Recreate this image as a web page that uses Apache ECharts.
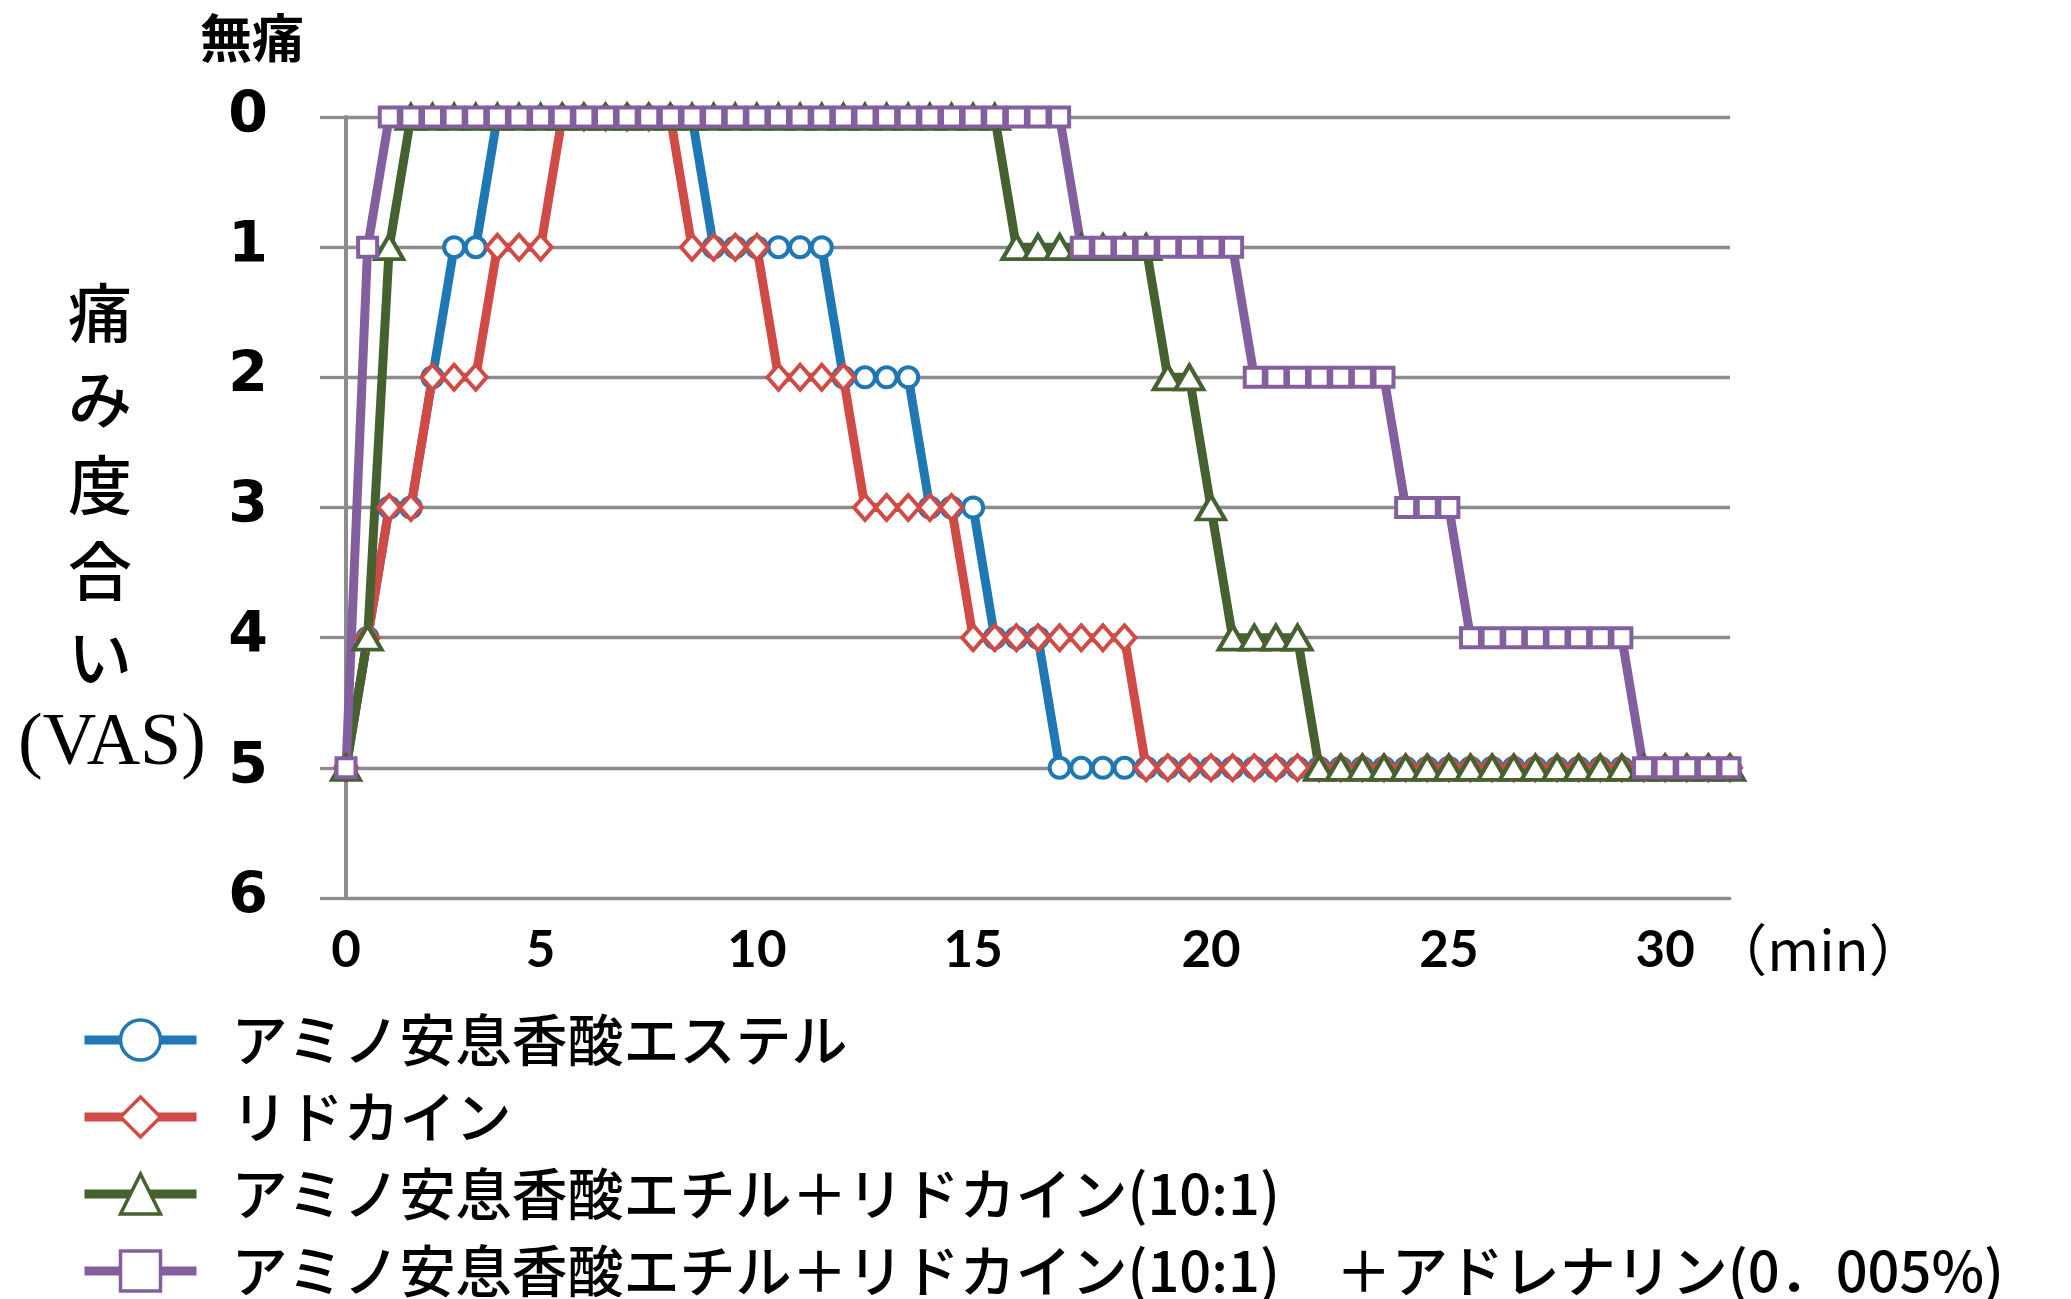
<!DOCTYPE html>
<html lang="ja">
<head>
<meta charset="utf-8">
<title>痛み度合い（VAS）の経時変化</title>
<script src="https://cdn.jsdelivr.net/npm/echarts@6/dist/echarts.min.js"></script>
<style>
  html, body { margin: 0; padding: 0; background: #ffffff; }
  #chart { width: 2071px; height: 1299px; }
</style>
</head>
<body>
<div id="chart"></div>
<script>
// VAS pain score at each sampling point (0 = no pain, 5 = before anaesthesia)
const esterVAS = [
  5, 4, 3, 3, 2, 1, 1,
  0, 0, 0, 0, 0, 0, 0, 0, 0, 0,
  1, 1, 1, 1, 1, 1,
  2, 2, 2, 2,
  3, 3, 3,
  4, 4, 4,
  5, 5, 5, 5, 5, 5, 5, 5, 5, 5, 5, 5, 5, 5, 5, 5,
  5, 5, 5, 5, 5, 5, 5, 5, 5, 5, 5, 5, 5, 5, 5, 5
];
const lidocaineVAS = [
  5, 4, 3, 3, 2, 2, 2, 1, 1, 1,
  0, 0, 0, 0, 0, 0,
  1, 1, 1, 1,
  2, 2, 2, 2,
  3, 3, 3, 3, 3,
  4, 4, 4, 4, 4, 4, 4, 4,
  5, 5, 5, 5, 5, 5, 5, 5, 5, 5, 5, 5, 5, 5,
  5, 5, 5, 5, 5, 5, 5, 5, 5, 5, 5, 5, 5, 5
];
const mixVAS = [
  5, 4, 1,
  0, 0, 0, 0, 0, 0, 0, 0, 0, 0, 0, 0, 0, 0,
  0, 0, 0, 0, 0, 0, 0, 0, 0, 0, 0, 0, 0, 0,
  1, 1, 1, 1, 1, 1, 1,
  2, 2,
  3,
  4, 4, 4, 4,
  5, 5, 5, 5, 5, 5, 5, 5, 5, 5,
  5, 5, 5, 5, 5, 5, 5, 5, 5, 5
];
const mixAdrenalineVAS = [
  5, 1,
  0, 0, 0, 0, 0, 0, 0, 0, 0, 0, 0, 0, 0, 0, 0, 0,
  0, 0, 0, 0, 0, 0, 0, 0, 0, 0, 0, 0, 0, 0, 0, 0,
  1, 1, 1, 1, 1, 1, 1, 1,
  2, 2, 2, 2, 2, 2, 2,
  3, 3, 3,
  4, 4, 4, 4, 4, 4, 4, 4,
  5, 5, 5, 5, 5
];

const seriesNames = [
  'アミノ安息香酸エステル',
  'リドカイン',
  'アミノ安息香酸エチル＋リドカイン(10:1)',
  'アミノ安息香酸エチル＋リドカイン(10:1)　＋アドレナリン(0．005%)'
];

// Minute labels and the sampling point each one sits under
const minuteTickIndex = [0, 9, 19, 29, 40, 51, 61];
const minuteTickText = ['0', '5', '10', '15', '20', '25', '30'];

const seriesValues = [esterVAS, lidocaineVAS, mixVAS, mixAdrenalineVAS];
const samplePoints = esterVAS.map((_, i) => String(i));

const looks = [
  { color: '#1F77B4', symbol: 'circle',   size: 20 },
  { color: '#D14B46', symbol: 'diamond',  size: [22, 25] },
  { color: '#44612F', symbol: 'triangle', size: [28, 24] },
  { color: '#845F9F', symbol: 'rect',     size: 19 }
];

const grey = '#8C8C8C';
const cjk = '"Noto Sans CJK JP", "Noto Sans CJK SC", sans-serif';

const chart = echarts.init(document.getElementById('chart'), null, { renderer: 'canvas' });

chart.setOption({
  animation: false,
  backgroundColor: '#ffffff',
  grid: { left: 346, right: 341, top: 117, bottom: 401, containLabel: false, outerBoundsMode: 'none' },
  xAxis: {
    type: 'category',
    data: samplePoints,
    boundaryGap: false,
    axisLine: { show: true, onZero: false, lineStyle: { color: grey, width: 3 } },
    axisTick: { show: false },
    splitLine: { show: false },
    axisLabel: {
      interval: 0,
      margin: 27,
      color: '#000',
      fontFamily: 'Lato, "Open Sans", sans-serif',
      fontWeight: 'bold',
      fontSize: 51,
      formatter: (value, index) => {
        const k = minuteTickIndex.indexOf(index);
        return k < 0 ? '' : minuteTickText[k];
      }
    }
  },
  yAxis: {
    type: 'value',
    inverse: true,
    min: 0,
    max: 6,
    interval: 1,
    axisLine: { show: true, onZero: false, lineStyle: { color: grey, width: 4 } },
    axisTick: { show: true, inside: false, length: 26, lineStyle: { color: grey, width: 3.3 } },
    splitLine: { show: true, lineStyle: { color: grey, width: 3.3 } },
    axisLabel: {
      margin: 78,
      color: '#000',
      fontFamily: '"DejaVu Sans", sans-serif',
      fontWeight: 'bold',
      fontSize: 57
    }
  },
  legend: {
    orient: 'vertical',
    left: 80,
    top: 1012,
    height: 290,
    padding: 0,
    itemWidth: 112,
    itemHeight: 50,
    itemGap: 21,
    selectedMode: false,
    data: seriesNames,
    lineStyle: { width: 9 },
    itemStyle: { borderWidth: 3.5 },
    textStyle: {
      fontFamily: cjk,
      fontWeight: 500,
      fontSize: 56,
      color: '#000',
      padding: [0, 0, 0, 30]
    }
  },
  series: seriesNames.map((name, s) => ({
    name: name,
    type: 'line',
    data: seriesValues[s],
    symbol: looks[s].symbol,
    symbolSize: looks[s].size,
    showAllSymbol: true,
    lineStyle: { color: looks[s].color, width: 9 },
    itemStyle: { color: '#ffffff', borderColor: looks[s].color, borderWidth: 4 },
    emphasis: { disabled: true },
    silent: true
  })),
  graphic: [
    {
      type: 'text', x: 252, y: 38,
      style: { text: '無痛', font: 'bold 52px ' + cjk, fill: '#000', align: 'center', verticalAlign: 'middle' }
    },
    {
      type: 'text', x: 100, y: 485,
      style: { text: '痛\nみ\n度\n合\nい', font: '500 64px ' + cjk, lineHeight: 86, fill: '#000', align: 'center', verticalAlign: 'middle' }
    },
    {
      type: 'text', x: 112, y: 745,
      style: { text: '(VAS)', font: '74px "Liberation Serif", serif', fill: '#000', align: 'center', verticalAlign: 'middle' }
    },
    {
      type: 'text', x: 1818, y: 950,
      style: { text: '（min）', font: '56px ' + cjk, fill: '#000', align: 'center', verticalAlign: 'middle' }
    }
  ]
});
</script>
</body>
</html>
